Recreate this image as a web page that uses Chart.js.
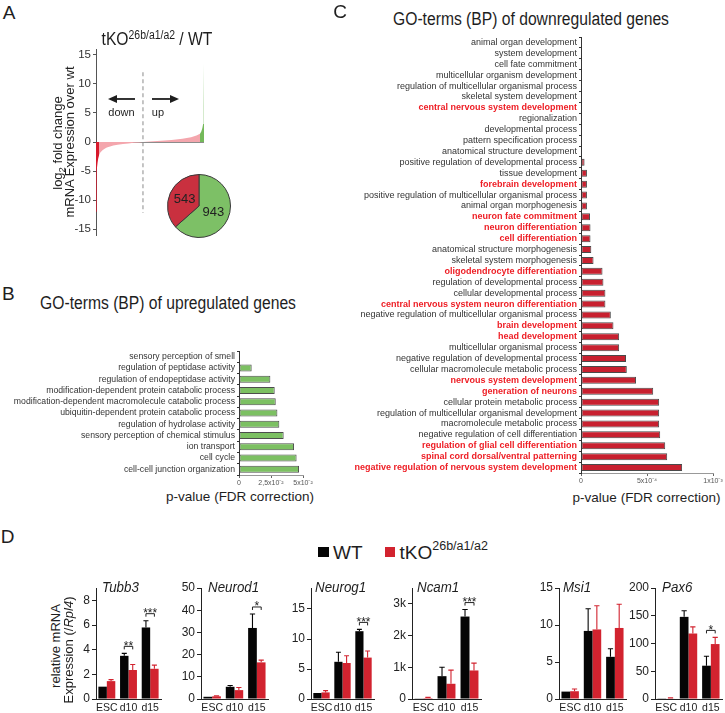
<!DOCTYPE html>
<html><head><meta charset="utf-8">
<title>Figure</title>
<script src="https://cdn.jsdelivr.net/npm/chart.js@4.4.1/dist/chart.umd.min.js"></script>
<style>
html,body{margin:0;padding:0;background:#fff}
body{position:relative;width:725px;height:713px;overflow:hidden;font-family:"Liberation Sans",Arial,Helvetica,sans-serif;color:#1e1e1e}
canvas{position:absolute}
.t{position:absolute;white-space:nowrap;line-height:1;transform:translate(-50%,-50%)}
.tl{position:absolute;white-space:nowrap;line-height:1;transform:translate(0,-50%)}
.gt{position:absolute;white-space:nowrap;line-height:1;font-style:italic;font-size:15.5px;transform-origin:0 50%;transform:translate(0,-50%) scaleX(0.86)}
.rot{transform:translate(-50%,-50%) rotate(-90deg)}
.sq{position:absolute}
</style></head><body>
<script>
// ================= DATA =================
// Panel A: ranked log2 fold change (rank as % of genes)
const aStrongDownRank = [0, 0.4, 0.9, 1.5, 2.1, 2.8];
const aStrongDownLfc  = [-12, -7.5, -4.8, -3.5, -2.8, -2.3];
const aDownRank = [2.8, 4, 6, 8, 10, 13, 16, 20, 25, 30, 35, 40, 43.5];
const aDownLfc  = [-2.3, -1.8, -1.4, -1.15, -0.95, -0.78, -0.62, -0.48, -0.35, -0.24, -0.15, -0.07, 0];
const aUpRank = [43.5, 50, 60, 70, 80, 88, 93, 96.3];
const aUpLfc  = [0, 0.08, 0.2, 0.35, 0.55, 0.8, 1.1, 1.4];
const aStrongUpRank = [96.3, 97.5, 98.5, 99.2, 99.6, 99.85, 100];
const aStrongUpLfc  = [1.4, 1.8, 2.4, 3.1, 3.7, 6, 13.5];
const aSplitRank = 43.5;
const aTicks = [-15, -10, -5, 0, 5, 10, 15];
const pieLabels = ['up', 'down'];
const pieCounts = [943, 543];

// Panel B: GO terms of upregulated genes
const upTerms = ['sensory perception of smell', 'regulation of peptidase activity', 'regulation of endopeptidase activity',
  'modification-dependent protein catabolic process', 'modification-dependent macromolecule catabolic process',
  'ubiquitin-dependent protein catabolic process', 'regulation of hydrolase activity',
  'sensory perception of chemical stimulus', 'ion transport', 'cell cycle', 'cell-cell junction organization'];
const upPvals = [0.0004, 0.0099, 0.0245, 0.0279, 0.0287, 0.0300, 0.0315, 0.0349, 0.0430, 0.0450, 0.0469];
const upTickValues = [0, 0.025, 0.05];
const upTickLabels = ['0', '2,5x10\u207B\u00B2', '5x10\u207B\u00B2'];

// Panel C: GO terms of downregulated genes
const downTerms = ['animal organ development', 'system development', 'cell fate commitment', 'multicellular organism development',
  'regulation of multicellular organismal process', 'skeletal system development', 'central nervous system development',
  'regionalization', 'developmental process', 'pattern specification process', 'anatomical structure development',
  'positive regulation of developmental process', 'tissue development', 'forebrain development',
  'positive regulation of multicellular organismal process', 'animal organ morphogenesis', 'neuron fate commitment',
  'neuron differentiation', 'cell differentiation', 'anatomical structure morphogenesis', 'skeletal system morphogenesis',
  'oligodendrocyte differentiation', 'regulation of developmental process', 'cellular developmental process',
  'central nervous system neuron differentiation', 'negative regulation of multicellular organismal process',
  'brain development', 'head development', 'multicellular organismal process', 'negative regulation of developmental process',
  'cellular macromolecule metabolic process', 'nervous system development', 'generation of neurons',
  'cellular protein metabolic process', 'regulation of multicellular organismal development', 'macromolecule metabolic process',
  'negative regulation of cell differentiation', 'regulation of glial cell differentiation',
  'spinal cord dorsal/ventral patterning', 'negative regulation of nervous system development'];
const downPvals = [0.000001, 0.000001, 0.000001, 0.000001, 0.000001, 0.000001, 0.000001, 0.000001, 0.000001, 0.000001, 0.000001,
  0.000027, 0.000045, 0.000045, 0.000045, 0.000045, 0.000068, 0.000072, 0.000072, 0.000078, 0.000095,
  0.000163, 0.000170, 0.000185, 0.000185, 0.000226, 0.000246, 0.000289, 0.000289, 0.000341, 0.000347,
  0.000417, 0.000547, 0.000592, 0.000592, 0.000592, 0.000600, 0.000638, 0.000653, 0.000766];
const downNeuralTerms = ['central nervous system development', 'forebrain development', 'neuron fate commitment',
  'neuron differentiation', 'cell differentiation', 'oligodendrocyte differentiation',
  'central nervous system neuron differentiation', 'brain development', 'head development', 'nervous system development',
  'generation of neurons', 'regulation of glial cell differentiation', 'spinal cord dorsal/ventral patterning',
  'negative regulation of nervous system development'];
const downTickValues = [0, 0.0005, 0.001];
const downTickLabels = ['0', '5x10\u207B\u2074', '1x10\u207B\u00B3'];

// Panel D: qPCR, relative mRNA expression (/Rpl4)
const timepoints = ['ESC', 'd10', 'd15'];
const tubb3WT = [1.0, 3.5, 5.8],    tubb3WTerr = [0, 0.2, 0.55];
const tubb3KO = [1.45, 2.35, 2.45], tubb3KOerr = [0.12, 0.45, 0.3];
const tubb3Sig = [[1, '**'], [2, '***']];
const tubb3Ticks = [0, 2, 4, 6, 8];
const neurod1WT = [1.0, 5.5, 32.0], neurod1WTerr = [0, 0.6, 6.3];
const neurod1KO = [1.2, 4.0, 16.5], neurod1KOerr = [0.2, 1.2, 1.0];
const neurod1Sig = [[2, '*']];
const neurod1Ticks = [0, 10, 20, 30, 40, 50];
const neurog1WT = [1.0, 6.2, 11.3], neurog1WTerr = [0, 1.6, 0.3];
const neurog1KO = [1.1, 6.0, 6.9],  neurog1KOerr = [0.3, 1.2, 1.1];
const neurog1Sig = [[2, '***']];
const neurog1Ticks = [0, 5, 10, 15];
const ncam1WT = [10, 720, 2600], ncam1WTerr = [0, 280, 220];
const ncam1KO = [30, 480, 900],  ncam1KOerr = [20, 430, 230];
const ncam1Sig = [[2, '***']];
const ncam1Ticks = [0, 1000, 2000, 3000];
const ncam1TickLabels = ['0', '1k', '2k', '3k'];
const msi1WT = [1.0, 9.2, 5.7],  msi1WTerr = [0, 3.0, 1.1];
const msi1KO = [1.05, 9.4, 9.6], msi1KOerr = [0.3, 3.2, 3.2];
const msi1Sig = [];
const msi1Ticks = [0, 5, 10, 15];
const pax6WT = [0.5, 148, 60], pax6WTerr = [0, 11, 17];
const pax6KO = [1.0, 118, 99], pax6KOerr = [1, 12, 12];
const pax6Sig = [[2, '*']];
const pax6Ticks = [0, 50, 100, 150, 200];

// ================= RENDER =================
const FONT = '"Liberation Sans", Arial, Helvetica, sans-serif';
Chart.defaults.font.family = FONT;
Chart.defaults.color = '#222';
Chart.defaults.animation = false;
Chart.defaults.responsive = false;
Chart.defaults.maintainAspectRatio = false;
Chart.defaults.plugins.legend.display = false;
Chart.defaults.plugins.tooltip.enabled = false;

function mkCanvas(left, top, w, h) {
  const c = document.createElement('canvas');
  c.width = w; c.height = h;
  c.style.left = left + 'px'; c.style.top = top + 'px';
  c.style.width = w + 'px'; c.style.height = h + 'px';
  document.body.appendChild(c);
  return c;
}
const zip = (xs, ys) => xs.map((x, i) => ({x, y: ys[i]}));
function fixW(w) { return s => { s.width = w; s.paddingTop = 0; s.paddingBottom = 0; }; }
function fixH(h) { return s => { s.height = h; s.paddingLeft = 0; s.paddingRight = 0; }; }

// ---- Panel A: waterfall ----
function arrow(ctx, x0, x1, y) {
  const dir = Math.sign(x1 - x0), hl = 9, hw = 4;
  ctx.beginPath(); ctx.moveTo(x0, y); ctx.lineTo(x1 - dir * hl, y); ctx.stroke();
  ctx.beginPath(); ctx.moveTo(x1, y); ctx.lineTo(x1 - dir * hl, y - hw); ctx.lineTo(x1 - dir * hl, y + hw); ctx.closePath(); ctx.fill();
}
const aAnnot = {
  id: 'aAnnot',
  afterDatasetsDraw(chart) {
    const {ctx, scales: {x, y}} = chart;
    const xs = x.getPixelForValue(aSplitRank);
    const ya = y.getPixelForValue(7.4), yt = y.getPixelForValue(5);
    ctx.save();
    ctx.fillStyle = '#1e1e1e'; ctx.strokeStyle = '#1e1e1e'; ctx.lineWidth = 1.8;
    arrow(ctx, xs - 8, xs - 35, ya);
    arrow(ctx, xs + 9, xs + 36, ya);
    ctx.font = '11px ' + FONT; ctx.textAlign = 'center'; ctx.textBaseline = 'middle';
    ctx.fillText('down', xs - 21.5, yt);
    ctx.fillText('up', xs + 15, yt);
    ctx.restore();
  }
};
const fillDs = (xs, ys, color) => ({data: zip(xs, ys), backgroundColor: color, borderColor: 'transparent', borderWidth: 0, fill: 'origin', pointRadius: 0, tension: 0});
new Chart(mkCanvas(66, 41, 142, 198), {
  type: 'line',
  data: {datasets: [
    fillDs(aDownRank, aDownLfc, '#f4a6ad'),
    fillDs(aStrongDownRank, aStrongDownLfc, '#d7182b'),
    fillDs(aUpRank, aUpLfc, '#f4a6ad'),
    fillDs(aStrongUpRank, aStrongUpLfc, '#74b95a'),
    {data: [{x: aSplitRank, y: 12}, {x: aSplitRank, y: -12.2}], borderColor: '#8a8a8a', borderDash: [4, 3], borderWidth: 1, fill: false, pointRadius: 0}
  ]},
  options: {
    layout: {padding: {top: 8, right: 4, bottom: 4, left: 0}},
    scales: {
      x: {type: 'linear', min: 0, max: 100, display: false},
      y: {min: -16, max: 16, afterFit: fixW(30),
          afterBuildTicks: s => { s.ticks = aTicks.map(v => ({value: v})); },
          ticks: {font: {size: 11.5}, color: '#333', padding: 2},
          grid: {color: c => (c.tick && c.tick.value === 0) ? '#8c8c8c' : 'transparent', tickColor: '#555', tickLength: 3, lineWidth: 1},
          border: {color: '#555', width: 1}}
    }
  },
  plugins: [aAnnot]
});

// ---- Panel A: pie ----
const pieText = {
  id: 'pieText',
  afterDatasetsDraw(chart) {
    const {ctx} = chart;
    ctx.save(); ctx.font = '13px ' + FONT; ctx.fillStyle = '#222'; ctx.textAlign = 'center'; ctx.textBaseline = 'middle';
    chart.getDatasetMeta(0).data.forEach((arc, i) => {
      const p = arc.tooltipPosition();
      ctx.fillText(String(chart.data.datasets[0].data[i]), p.x, p.y);
    });
    ctx.restore();
  }
};
new Chart(mkCanvas(167, 174, 64, 64), {
  type: 'pie',
  data: {labels: pieLabels, datasets: [{data: pieCounts, backgroundColor: ['#7dc066', '#c9303f'], borderColor: '#3a3a3a', borderWidth: 1}]},
  options: {layout: {padding: 0}},
  plugins: [pieText]
});

// ---- Panel B ----
new Chart(mkCanvas(0, 343, 317, 146), {
  type: 'bar',
  data: {labels: upTerms, datasets: [{data: upPvals, backgroundColor: '#7cc062', borderColor: '#4d4d4d', borderWidth: 1, borderSkipped: false,
    barPercentage: 1, categoryPercentage: 0.62}]},
  options: {
    indexAxis: 'y',
    layout: {padding: {top: 8, right: 14, left: 0, bottom: 0}},
    scales: {
      x: {min: 0, max: 0.05, afterFit: fixH(14),
          afterBuildTicks: s => { s.ticks = upTickValues.map(v => ({value: v})); },
          ticks: {font: {size: 7}, color: '#555', padding: 1, maxRotation: 0, autoSkip: false, callback: (v, i) => upTickLabels[i]},
          grid: {drawOnChartArea: false, tickLength: 3, color: '#666'}, border: {color: '#999', width: 1}},
      y: {afterFit: fixW(239),
          ticks: {font: {size: 8.7}, color: '#333', padding: 2, autoSkip: false},
          grid: {drawOnChartArea: false, tickLength: 2, color: '#333'}, border: {color: '#333', width: 1}}
    }
  }
});

// ---- Panel C ----
new Chart(mkCanvas(330, 29, 395, 458), {
  type: 'bar',
  data: {labels: downTerms, datasets: [{data: downPvals, backgroundColor: '#c8202f', borderColor: '#4a4a4a', borderWidth: 1, borderSkipped: false,
    barPercentage: 1, categoryPercentage: 0.64}]},
  options: {
    indexAxis: 'y',
    layout: {padding: {top: 8, right: 12, left: 0, bottom: 0}},
    scales: {
      x: {min: 0, max: 0.001, afterFit: fixH(14),
          afterBuildTicks: s => { s.ticks = downTickValues.map(v => ({value: v})); },
          ticks: {font: {size: 7}, color: '#555', padding: 1, maxRotation: 0, autoSkip: false, callback: (v, i) => downTickLabels[i]},
          grid: {drawOnChartArea: false, tickLength: 3, color: '#666'}, border: {color: '#999', width: 1}},
      y: {afterFit: fixW(251),
          ticks: {autoSkip: false, padding: 2,
                  color: c => downNeuralTerms.includes(downTerms[c.index]) ? '#ee1d24' : '#333',
                  font: c => ({size: 9, weight: downNeuralTerms.includes(downTerms[c.index]) ? 'bold' : 'normal'})},
          grid: {drawOnChartArea: false, tickLength: 2, color: '#333'}, border: {color: '#333', width: 1}}
    }
  }
});

// ---- Panel D ----
const errPlugin = {
  id: 'errbars',
  afterDatasetsDraw(chart, args, opts) {
    const ctx = chart.ctx, ys = chart.scales.y;
    const topOf = (d, i) => { const ds = chart.data.datasets[d]; return ys.getPixelForValue(ds.data[i] + (ds.errors[i] || 0)); };
    ctx.save();
    chart.data.datasets.forEach((ds, di) => {
      chart.getDatasetMeta(di).data.forEach((bar, i) => {
        const e = ds.errors[i]; if (!e) return;
        const yTop = ys.getPixelForValue(ds.data[i] + e), w = bar.width * 0.6;
        ctx.strokeStyle = ds.backgroundColor; ctx.lineWidth = 1.1;
        ctx.beginPath(); ctx.moveTo(bar.x, bar.y); ctx.lineTo(bar.x, yTop);
        ctx.moveTo(bar.x - w / 2, yTop); ctx.lineTo(bar.x + w / 2, yTop); ctx.stroke();
      });
    });
    (opts.sig || []).forEach(([i, label]) => {
      const b0 = chart.getDatasetMeta(0).data[i], b1 = chart.getDatasetMeta(1).data[i];
      const yb = Math.min(topOf(0, i), topOf(1, i)) - 7;
      ctx.strokeStyle = '#222'; ctx.lineWidth = 1;
      ctx.beginPath(); ctx.moveTo(b0.x, yb + 3); ctx.lineTo(b0.x, yb); ctx.lineTo(b1.x, yb); ctx.lineTo(b1.x, yb + 3); ctx.stroke();
      ctx.fillStyle = '#222'; ctx.font = '12px ' + FONT; ctx.textAlign = 'center'; ctx.textBaseline = 'alphabetic';
      ctx.fillText(label, (b0.x + b1.x) / 2, yb + 3.5);
    });
    ctx.restore();
  }
};
const genes = [
  {wt: tubb3WT, wtErr: tubb3WTerr, ko: tubb3KO, koErr: tubb3KOerr, sig: tubb3Sig, max: 9, ticks: tubb3Ticks, box: [96, 161]},
  {wt: neurod1WT, wtErr: neurod1WTerr, ko: neurod1KO, koErr: neurod1KOerr, sig: neurod1Sig, max: 50, ticks: neurod1Ticks, box: [201, 268]},
  {wt: neurog1WT, wtErr: neurog1WTerr, ko: neurog1KO, koErr: neurog1KOerr, sig: neurog1Sig, max: 18.5, ticks: neurog1Ticks, box: [311, 374]},
  {wt: ncam1WT, wtErr: ncam1WTerr, ko: ncam1KO, koErr: ncam1KOerr, sig: ncam1Sig, max: 3500, ticks: ncam1Ticks, labels: ncam1TickLabels, box: [412, 481]},
  {wt: msi1WT, wtErr: msi1WTerr, ko: msi1KO, koErr: msi1KOerr, sig: msi1Sig, max: 15, ticks: msi1Ticks, box: [559, 626]},
  {wt: pax6WT, wtErr: pax6WTerr, ko: pax6KO, koErr: pax6KOerr, sig: pax6Sig, max: 200, ticks: pax6Ticks, box: [655, 722]}
];
genes.forEach(g => {
  const yw = 26, pr = 3;
  const left = g.box[0] - yw, w = g.box[1] - g.box[0] + yw + pr;
  new Chart(mkCanvas(left, 578, w, 135), {
    type: 'bar',
    data: {labels: timepoints, datasets: [
      {label: 'WT', data: g.wt, errors: g.wtErr, backgroundColor: '#050505', barPercentage: 1, categoryPercentage: 0.78},
      {label: 'tKO', data: g.ko, errors: g.koErr, backgroundColor: '#d2232f', barPercentage: 1, categoryPercentage: 0.78}
    ]},
    options: {
      layout: {padding: {top: 10, right: pr, left: 0, bottom: 0}},
      plugins: {errbars: {sig: g.sig}},
      scales: {
        x: {afterFit: fixH(14),
            ticks: {font: {size: 10.5}, color: '#222', padding: 2.5, maxRotation: 0, minRotation: 0, autoSkip: false},
            grid: {display: false, drawTicks: false, tickLength: 0}, border: {display: true, color: '#222', width: 1}},
        y: {min: 0, max: g.max, afterFit: fixW(yw),
            afterBuildTicks: s => { s.ticks = g.ticks.map(v => ({value: v})); },
            ticks: {font: {size: 12}, color: '#222', padding: 2,
                    callback: (v, i) => g.labels ? g.labels[i] : String(v)},
            grid: {drawOnChartArea: false, tickLength: 4, color: '#222'}, border: {color: '#222', width: 1}}
      }
    },
    plugins: [errPlugin]
  });
});
</script>

<!-- ============ TEXT ============ -->
<div class="t" style="left:9px;top:11.7px;font-size:19px">A</div>
<div class="t" style="left:156.7px;top:38.5px;font-size:18px;transform:translate(-50%,-50%) scaleX(0.87)">tKO<span style="font-size:12px;position:relative;top:-6px">26b/a1/a2</span> / WT</div>
<div class="t rot" style="left:56.5px;top:143px;font-size:13px">log<span style="font-size:9.5px;position:relative;top:3px">2</span> fold change</div>
<div class="t rot" style="left:69px;top:141.7px;font-size:13px">mRNA Expression over wt</div>

<div class="t" style="left:8.3px;top:292.5px;font-size:19px">B</div>
<div class="t" style="left:167.5px;top:303.3px;font-size:18px;transform:translate(-50%,-50%) scaleX(0.87)">GO-terms (BP) of upregulated genes</div>
<div class="t" style="left:240px;top:497px;font-size:13.5px">p-value (FDR correction)</div>

<div class="t" style="left:340px;top:10.8px;font-size:19px">C</div>
<div class="t" style="left:530.8px;top:19.2px;font-size:18px;transform:translate(-50%,-50%) scaleX(0.87)">GO-terms (BP) of downregulated genes</div>
<div class="t" style="left:646.5px;top:497.5px;font-size:13.5px">p-value (FDR correction)</div>

<div class="t" style="left:7.5px;top:535.5px;font-size:19px">D</div>
<div class="sq" style="left:318px;top:547px;width:11px;height:10px;background:#050505"></div>
<div class="tl" style="left:333px;top:551.8px;font-size:19px">WT</div>
<div class="sq" style="left:385px;top:547px;width:10px;height:10px;background:#d2232f"></div>
<div class="tl" style="left:399.5px;top:551.8px;font-size:19px">tKO<span style="font-size:12.5px;position:relative;top:-9px">26b/a1/a2</span></div>

<div class="t rot" style="left:55px;top:646px;font-size:13px">relative mRNA</div>
<div class="t rot" style="left:67.5px;top:650px;font-size:13px">Expression (/<i>Rpl4</i>)</div>

<div class="gt" style="left:101.7px;top:587px">Tubb3</div>
<div class="gt" style="left:208.3px;top:587px">Neurod1</div>
<div class="gt" style="left:315px;top:587px">Neurog1</div>
<div class="gt" style="left:416.7px;top:587px">Ncam1</div>
<div class="gt" style="left:563.3px;top:587px">Msi1</div>
<div class="gt" style="left:661.7px;top:587px">Pax6</div>
</body></html>
